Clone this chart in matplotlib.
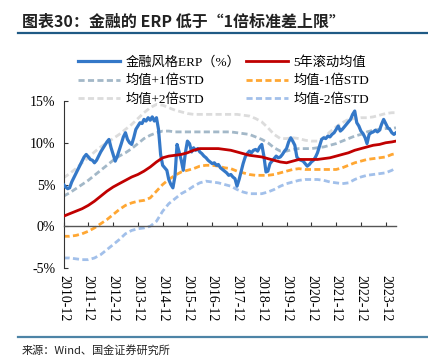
import matplotlib
matplotlib.use('Agg')
import matplotlib.pyplot as plt
import matplotlib.dates as mdates
import pandas as pd

plt.rcParams['font.family'] = ['Liberation Serif', 'Noto Sans CJK SC', 'DejaVu Sans']

# 金融风格 ERP (%), monthly, 2010-12 .. 2024-05
erp = [5.0, 4.7, 4.5, 4.6, 5.3, 5.8, 6.3, 6.8, 7.3, 7.8, 8.3, 8.6,
       8.3, 8.0, 7.9, 7.6, 7.9, 8.4, 8.9, 9.3, 9.7, 10.1, 10.4, 9.4,
       8.6, 7.8, 8.4, 9.1, 9.9, 10.7, 11.2, 10.4, 10.0, 9.8, 10.6, 11.6,
       12.0, 12.4, 12.3, 12.8, 12.6, 13.0, 12.7, 13.1, 12.6, 13.0, 11.6, 8.6,
       7.3, 7.0, 6.7, 5.6, 5.0, 4.6, 6.0, 9.8, 8.9, 7.9, 6.7, 8.8,
       10.2, 9.9, 8.9, 9.4, 9.1, 9.3, 8.9, 8.7, 8.4, 8.2, 7.9, 7.7,
       7.5, 7.6, 7.3, 7.4, 7.0, 6.8, 6.6, 6.4, 6.1, 6.2, 5.9, 5.7,
       4.8, 5.6, 6.6, 7.5, 8.3, 8.7, 9.0, 8.8, 9.1, 9.2, 9.0, 9.5,
       9.8, 8.4, 6.5, 6.6, 7.5, 7.8, 8.1, 8.4, 8.2, 8.3, 8.6, 9.0,
       9.3, 10.1, 10.6, 10.2, 9.7, 8.3, 8.0, 7.9, 7.8, 7.5, 7.2, 7.4,
       7.7, 7.9, 8.3, 8.8, 9.6, 10.4, 10.6, 10.5, 10.8, 10.7, 11.0, 11.2,
       11.6, 12.0, 11.4, 11.6, 11.9, 12.2, 12.5, 12.8, 13.4, 13.8, 12.4, 12.0,
       11.4, 11.1, 10.6, 9.9, 11.0, 11.2, 11.3, 11.5, 11.3, 11.5, 12.2, 12.8,
       12.3, 11.8, 11.6, 11.2, 11.0, 11.2]
erp_dates = pd.date_range('2010-12-01', periods=len(erp), freq='MS')

# rolling mean and bands, quarterly + last month
band_dates = list(pd.date_range('2010-12-01', '2024-03-01', freq='3MS')) + [pd.Timestamp('2024-05-01')]
mean5 = [1.2, 1.5, 1.8, 2.1, 2.5, 3.0, 3.6, 4.2, 4.7, 5.1, 5.5, 5.9, 6.2, 6.6,
         7.1, 7.7, 8.2, 8.4, 8.5, 8.6, 8.8, 9.1, 9.3, 9.3, 9.3, 9.3, 9.2, 9.1,
         8.9, 8.7, 8.5, 8.4, 8.3, 8.1, 7.9, 7.7, 7.6, 7.8, 8.0, 8.0, 8.0, 8.0,
         8.1, 8.2, 8.4, 8.6, 8.8, 9.1, 9.3, 9.5, 9.7, 9.8, 10.0, 10.1, 10.2]
plus1 = [3.6, 4.0, 4.5, 5.0, 5.5, 6.1, 6.7, 7.3, 7.9, 8.4, 8.8, 9.3, 9.9, 10.5,
         10.9, 11.2, 11.4, 11.4, 11.3, 11.3, 11.3, 11.3, 11.3, 11.3, 11.3, 11.3, 11.3, 11.3,
         11.2, 11.1, 11.0, 10.7, 10.4, 10.0, 9.4, 9.0, 9.0, 9.2, 9.3, 9.3, 9.3, 9.4,
         9.5, 9.7, 9.9, 10.2, 10.5, 10.8, 11.0, 11.3, 11.5, 11.6, 11.7, 11.7, 11.8]
minus1 = [-1.2, -1.2, -1.1, -0.9, -0.6, -0.2, 0.3, 0.8, 1.4, 2.0, 2.5, 2.8, 3.0, 3.1,
          3.4, 4.2, 5.0, 5.6, 6.1, 6.5, 6.7, 6.9, 7.2, 7.3, 7.3, 7.2, 7.0, 6.9,
          6.6, 6.4, 6.2, 6.1, 6.1, 6.1, 6.2, 6.4, 6.6, 6.8, 6.9, 6.8, 6.8, 6.8,
          6.8, 6.8, 6.8, 7.0, 7.3, 7.6, 7.8, 8.0, 8.1, 8.2, 8.3, 8.6, 8.7]
plus2 = [5.8, 6.3, 6.9, 7.6, 8.2, 8.9, 9.5, 10.0, 10.5, 11.0, 11.6, 12.2, 12.9, 13.6,
         14.2, 14.6, 14.5, 14.2, 13.9, 13.7, 13.5, 13.4, 13.4, 13.4, 13.4, 13.4, 13.4, 13.4,
         13.4, 13.3, 13.2, 12.9, 12.5, 11.8, 11.0, 10.5, 10.5, 10.6, 10.5, 10.3, 10.2, 10.2,
         10.6, 11.3, 11.9, 12.4, 12.8, 12.9, 13.0, 13.0, 13.1, 13.3, 13.5, 13.6, 13.6]
minus2 = [-3.8, -3.8, -3.9, -4.0, -4.0, -3.8, -3.4, -2.8, -2.2, -1.6, -0.9, -0.5, -0.3, -0.2,
          0.0, 0.6, 1.8, 2.7, 3.3, 3.9, 4.3, 4.8, 5.2, 5.4, 5.3, 5.2, 5.0, 4.8,
          4.4, 4.1, 3.9, 3.9, 3.9, 4.1, 4.4, 4.8, 5.1, 5.3, 5.5, 5.6, 5.6, 5.6,
          5.5, 5.3, 5.2, 5.1, 5.2, 5.6, 5.9, 6.1, 6.2, 6.3, 6.4, 6.7, 7.0]

tick_dates = pd.date_range('2010-12-01', '2023-12-01', freq='12MS')
yticks = [-5, 0, 5, 10, 15]

fig = plt.figure(figsize=(4.28, 3.61), dpi=100)
ax = fig.add_axes([0.1484, 0.2576, 0.7768, 0.4626])

dash = (2.2, 1.2)
l1, = ax.plot(erp_dates, erp, color='#3478c8', lw=2.3, label='金融风格ERP（%）', zorder=5)
l3, = ax.plot(band_dates, plus1, color='#a3b8c8', lw=2, dashes=dash, label='均值+1倍STD')
l5, = ax.plot(band_dates, plus2, color='#dcdcdc', lw=2, dashes=dash, label='均值+2倍STD')
l2, = ax.plot(band_dates, mean5, color='#c00000', lw=2, label='5年滚动均值', zorder=6)
l4, = ax.plot(band_dates, minus1, color='#ffa733', lw=2, dashes=dash, label='均值-1倍STD')
l6, = ax.plot(band_dates, minus2, color='#a2c0ea', lw=2, dashes=dash, label='均值-2倍STD')

ax.set_xlim(erp_dates[0], erp_dates[-1])
ax.set_ylim(-5, 15)
ax.set_yticks(yticks)
ax.set_yticklabels([f'{v}%' for v in yticks], fontsize=10)
ax.tick_params(axis='y', direction='in', length=3, pad=6, color='#333333')

for s in ['top', 'right']:
    ax.spines[s].set_visible(False)
ax.spines['left'].set_color('#333333')
ax.spines['bottom'].set_position(('data', 0))
ax.spines['bottom'].set_color('#555555')
ax.spines['bottom'].set_linewidth(1.0)
ax.set_xticks(tick_dates)
ax.tick_params(axis='x', direction='in', length=3, labelbottom=False, color='#333333')

sec = ax.secondary_xaxis(0)
sec.set_xticks(tick_dates)
sec.xaxis.set_major_formatter(mdates.DateFormatter('%Y-%m'))
sec.spines['bottom'].set_visible(False)
sec.tick_params(length=0, pad=5, labelsize=10, labelrotation=270)

fig.legend(handles=[l1, l3, l5, l2, l4, l6], ncol=2, loc='upper left',
           bbox_to_anchor=(0.182, 0.845), frameon=False, fontsize=9.5,
           handlelength=3.2, handletextpad=0.4, columnspacing=0.45,
           labelspacing=0.45, borderpad=0, borderaxespad=0)

fig.text(0.051, 0.939, '图表30：金融的 ERP 低于“1倍标准差上限”', fontsize=11.5,
         fontweight='bold', fontstyle='italic', va='center', ha='left',
         family=['Noto Sans CJK SC', 'DejaVu Sans'], color='#222222')
fig.add_artist(plt.Line2D([0.042, 1.0], [0.9086, 0.9086], color='#1f5a85', lw=1.6))
fig.add_artist(plt.Line2D([0.042, 1.0], [0.0665, 0.0665], color='#4d84a6', lw=1.6))
fig.text(0.051, 0.030, '来源：Wind、国金证券研究所', fontsize=8, va='center', ha='left',
         family=['Noto Sans CJK SC', 'DejaVu Sans'], color='#222222')

fig.savefig('out.png', dpi=100)
